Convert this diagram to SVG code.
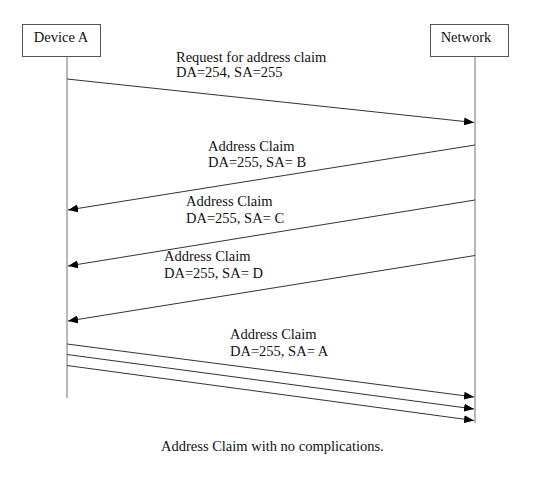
<svg xmlns="http://www.w3.org/2000/svg" width="554" height="485" viewBox="0 0 554 485">
<style>
text{font-family:'Liberation Serif','DejaVu Serif',serif;font-size:14.5px;fill:#111}
.box{fill:#fff;stroke:#555;stroke-width:1}
.life{stroke:#888;stroke-width:1.2;fill:none}
.msg{stroke:#333;stroke-width:1;fill:none;marker-end:url(#ah)}
</style>
<defs>
<marker id="ah" viewBox="0 0 10 8" refX="10" refY="4" markerWidth="10" markerHeight="8" markerUnits="userSpaceOnUse" orient="auto">
<path d="M0,0 L10,4 L0,8 Z" fill="#000"/>
</marker>
</defs>
<rect width="554" height="485" fill="#fff"/>
<g id="deviceA">
<rect class="box" x="22.5" y="24.5" width="78" height="32"/>
<text x="61" y="42" text-anchor="middle">Device A</text>
<line class="life" x1="67" y1="57" x2="67" y2="398"/>
</g>
<g id="network">
<rect class="box" x="430.5" y="24.5" width="78" height="32"/>
<text x="466" y="42" text-anchor="middle">Network</text>
<line class="life" x1="475" y1="57" x2="475" y2="423"/>
</g>
<g id="connectors">
<line class="msg" x1="67" y1="79" x2="474" y2="122.5"/>
<line class="msg" x1="475" y1="145" x2="68" y2="210"/>
<line class="msg" x1="475" y1="200" x2="68" y2="266"/>
<line class="msg" x1="475" y1="255.5" x2="68" y2="321"/>
<line class="msg" x1="67" y1="344" x2="474" y2="397"/>
<line class="msg" x1="67" y1="354.5" x2="474" y2="409"/>
<line class="msg" x1="67" y1="365.5" x2="474" y2="420.5"/>
</g>
<g id="labels">
<text x="176" y="62">Request for address claim</text>
<text x="176" y="77">DA=254, SA=255</text>
<text x="208" y="151">Address Claim</text>
<text x="208" y="167">DA=255, SA= B</text>
<text x="186" y="206">Address Claim</text>
<text x="186" y="222.5">DA=255, SA= C</text>
<text x="164" y="261">Address Claim</text>
<text x="164" y="277.5">DA=255, SA= D</text>
<text x="230" y="339">Address Claim</text>
<text x="230" y="356">DA=255, SA= A</text>
<text x="161" y="451">Address Claim with no complications.</text>
</g>
</svg>
